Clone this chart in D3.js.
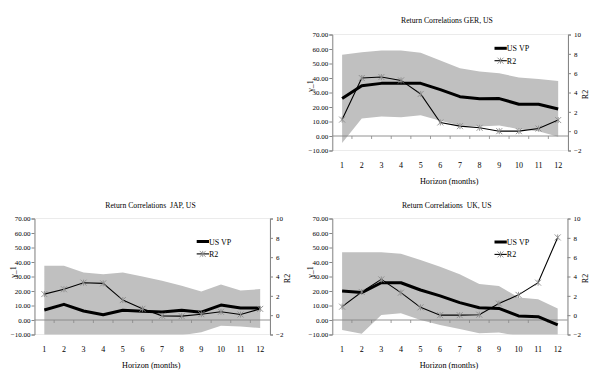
<!DOCTYPE html>
<html><head><meta charset="utf-8">
<script src="https://cdn.jsdelivr.net/npm/d3@7"></script>
<style>
html,body{margin:0;padding:0;background:#fff;}
svg{display:block;}
text{font-family:"Liberation Serif","Times New Roman",serif;fill:#000;}
.title{white-space:pre;}
</style></head>
<body>
<svg id="chart" width="600" height="378"></svg>
<script>
// ---- data ----
const categories = [1,2,3,4,5,6,7,8,9,10,11,12];
const leftTicks = [70,60,50,40,30,20,10,0,-10];
const rightTicks = [10,8,6,4,2,0,-2];

const gerUpper = [56.1,57.7,58.9,59.0,57.4,52.0,46.7,44.4,43.2,40.4,39.3,38.0];
const gerLower = [-4.8,12.0,13.5,13.0,14.3,10.6,7.3,6.6,7.3,4.7,3.2,-0.5];
const gerVP    = [25.8,34.6,36.3,36.3,36.3,32.0,27.1,25.7,25.8,21.9,21.9,18.6];
const gerR2    = [1.2,5.5,5.6,5.25,3.85,0.9,0.52,0.35,0.0,0.0,0.27,1.15];

const japUpper = [37.5,37.5,32.7,31.6,32.7,30.0,27.0,23.6,19.6,24.4,20.4,21.3];
const japLower = [-11,-11,-11,-11,-11,-11,-11,-10.5,-8.5,-4,-4.5,-5.5];
const japVP    = [6.9,10.8,6.2,3.6,6.7,6.0,5.5,6.7,5.4,10.3,8.3,8.3];
const japR2    = [2.18,2.68,3.36,3.29,1.56,0.66,-0.07,-0.1,0.1,0.35,0.07,0.65];

const ukUpper = [46.7,46.7,46.7,45.7,41.4,36.8,31.5,24.8,23.4,15.6,14.3,8.0];
const ukLower = [-6.9,-9.4,3.4,4.6,0.0,-3.4,-6.2,-9.2,-8.7,-11,-11,-11];
const ukVP    = [20.0,18.9,25.7,25.7,20.7,16.6,12.0,8.5,8.0,2.8,2.3,-3.4];
const ukR2    = [0.88,2.4,3.7,2.33,0.81,0.0,0.0,0.05,1.2,2.1,3.36,8.04];

const titles = ["Return Correlations GER, US","Return Correlations  JAP, US","Return Correlations  UK, US"];
const xLabel = "Horizon (months)";
const yLeftLabel = "γ_1";
const yRightLabel = "R2";
const legendLabels = ["US VP","R2"];

// ---- layout ----
const panels = [
  {title:titles[0], upper:gerUpper, lower:gerLower, vp:gerVP, r2:gerR2,
   l:332.3, r:568, t:34.5, b:150.5, titleY:23, titleX:447, legX:494.5, legY:48.3, ylabY:86},
  {title:titles[1], upper:japUpper, lower:japLower, vp:japVP, r2:japR2,
   l:34.5, r:270, t:218.5, b:334.5, titleY:208, titleX:150.5, legX:196.7, legY:241.5, ylabY:272},
  {title:titles[2], upper:ukUpper, lower:ukLower, vp:ukVP, r2:ukR2,
   l:332.3, r:567.5, t:218.5, b:334.5, titleY:208, titleX:446.7, legX:494.5, legY:242, ylabY:272}
];

const svg = d3.select("#chart");
const axisColor = "#868686";

function starPath(s){
  return `M0,${-s}L0,${s}M${-s},${-s}L${s},${s}M${-s},${s}L${s},${-s}`;
}

panels.forEach((p,pi)=>{
  const g = svg.append("g");
  const x = d3.scaleBand().domain(categories).range([p.l,p.r]);
  const xc = d => x(d)+x.bandwidth()/2;
  const y = d3.scaleLinear().domain([-10,70]).range([p.b,p.t]);
  const y2 = d3.scaleLinear().domain([-2,10]).range([p.b,p.t]);

  const clipId = "clip"+pi;
  svg.append("clipPath").attr("id",clipId).append("rect")
    .attr("x",p.l).attr("y",p.t).attr("width",p.r-p.l).attr("height",p.b-p.t);

  // plot border (faint)
  g.append("rect").attr("x",p.l).attr("y",p.t).attr("width",p.r-p.l).attr("height",p.b-p.t)
    .attr("fill","none").attr("stroke","#e6e6e6").attr("stroke-width",0.8);

  // band
  const area = d3.area().x((d,i)=>xc(categories[i])).y0((d,i)=>y(p.lower[i])).y1(d=>y(d));
  g.append("path").datum(p.upper).attr("d",area).attr("fill","#c0c0c0")
    .attr("clip-path",`url(#${clipId})`);

  // zero axis line with category ticks
  g.append("line").attr("x1",p.l).attr("x2",p.r).attr("y1",y(0)).attr("y2",y(0))
    .attr("stroke",axisColor).attr("stroke-width",0.9);
  g.selectAll(".ct").data(categories.slice(1)).enter().append("line")
    .attr("x1",d=>x(d)).attr("x2",d=>x(d)).attr("y1",y(0)).attr("y2",y(0)+3)
    .attr("stroke",axisColor).attr("stroke-width",0.8);

  // x tick labels
  g.selectAll(".xl").data(categories).enter().append("text")
    .attr("x",d=>xc(d)).attr("y",p.b+17.5).attr("text-anchor","middle")
    .attr("font-size",8).text(d=>d);

  // left axis
  const yAxis = d3.axisLeft(y).tickValues(leftTicks).tickSize(3).tickFormat(d3.format(".2f"));
  const ga = g.append("g").attr("transform",`translate(${p.l},0)`).call(yAxis);
  ga.select(".domain").attr("stroke",axisColor);
  ga.selectAll(".tick line").attr("stroke",axisColor);
  ga.selectAll("text").attr("font-size",7).attr("fill","#000").attr("x",-4);

  // right axis
  const yAxis2 = d3.axisRight(y2).tickValues(rightTicks).tickSize(3);
  const gb = g.append("g").attr("transform",`translate(${p.r},0)`).call(yAxis2);
  gb.select(".domain").attr("stroke",axisColor);
  gb.selectAll(".tick line").attr("stroke",axisColor);
  gb.selectAll("text").attr("font-size",7).attr("fill","#000").attr("x",6);

  // VP line
  const lineVP = d3.line().x((d,i)=>xc(categories[i])).y(d=>y(d));
  g.append("path").datum(p.vp).attr("d",lineVP).attr("fill","none")
    .attr("stroke","#000").attr("stroke-width",3).attr("stroke-linejoin","round");

  // R2 line
  const lineR2 = d3.line().x((d,i)=>xc(categories[i])).y(d=>y2(d));
  g.append("path").datum(p.r2).attr("d",lineR2).attr("fill","none")
    .attr("stroke","#000").attr("stroke-width",1.1);
  g.selectAll(".mk").data(p.r2).enter().append("path")
    .attr("transform",(d,i)=>`translate(${xc(categories[i])},${y2(d)})`)
    .attr("d",starPath(3)).attr("stroke","#8c8c8c").attr("stroke-width",0.9).attr("fill","none");

  // title
  g.append("text").attr("class","title").attr("x",p.titleX).attr("y",p.titleY).attr("text-anchor","middle")
    .attr("font-size",7.7).text(p.title);
  // x label
  g.append("text").attr("x",(p.l+p.r)/2-1).attr("y",p.b+33.5).attr("text-anchor","middle")
    .attr("font-size",8.2).text(xLabel);
  // y labels
  g.append("text").attr("transform",`translate(${p.l-19},${p.ylabY}) rotate(-90)`)
    .attr("text-anchor","middle").attr("font-size",8).text(yLeftLabel);
  g.append("text").attr("transform",`translate(${p.r+20},${(p.t+p.b)/2+2}) rotate(-90)`)
    .attr("text-anchor","middle").attr("font-size",8).text(yRightLabel);

  // legend
  const lg = g.append("g");
  lg.append("line").attr("x1",p.legX).attr("x2",p.legX+12.3).attr("y1",p.legY).attr("y2",p.legY)
    .attr("stroke","#000").attr("stroke-width",3);
  lg.append("text").attr("x",p.legX+12.3).attr("y",p.legY+3).attr("font-size",8).text(legendLabels[0]);
  lg.append("line").attr("x1",p.legX).attr("x2",p.legX+12.3).attr("y1",p.legY+12.4).attr("y2",p.legY+12.4)
    .attr("stroke","#000").attr("stroke-width",1.1);
  lg.append("path").attr("transform",`translate(${p.legX+6},${p.legY+12.4})`)
    .attr("d",starPath(3)).attr("stroke","#8c8c8c").attr("stroke-width",0.9).attr("fill","none");
  lg.append("text").attr("x",p.legX+12.3).attr("y",p.legY+15.4).attr("font-size",8).text(legendLabels[1]);
});
</script>
</body></html>
